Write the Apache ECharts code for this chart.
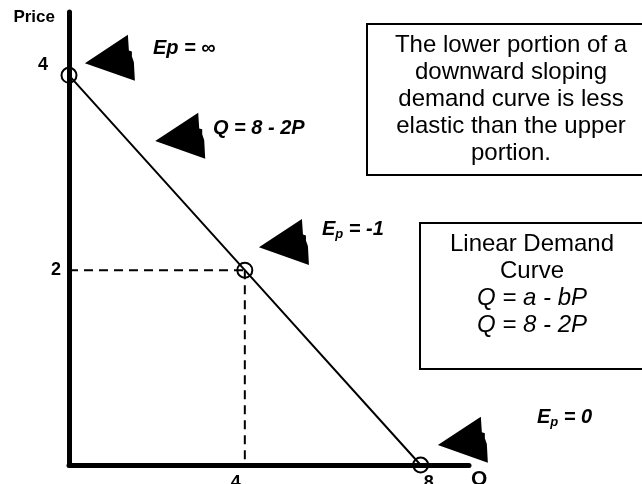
<!DOCTYPE html>
<html>
<head>
<meta charset="utf-8">
<script src="https://cdn.jsdelivr.net/npm/echarts@6/dist/echarts.min.js"></script>
<style>
html,body{margin:0;padding:0;background:#fff;}
#chart{width:642px;height:484px;}
</style>
</head>
<body>
<div id="chart"></div>
<script>
// Demand curve Q = 8 - 2P : points (Q, P)
var demandPoints = [[0, 4], [4, 2], [8, 0]];
// guide (dashed) lines to the unit-elastic point
var guideHorizontal = [[0, 2], [4, 2]];
var guideVertical = [[4, 2], [4, 0]];
// arrow annotations (Q, P)
var arrowPoints = [[0.93, 4.18], [2.53, 3.38], [4.89, 2.29], [8.96, 0.26]];
// tick labels
var xTickValues = [4, 8];
var yTickValues = [2, 4];
var xAxisName = 'Q';
var yAxisName = 'Price';
var box1Lines = ['The lower portion of a', 'downward sloping', 'demand curve is less', 'elastic than the upper', 'portion.'];
var box2Lines = ['Linear Demand', 'Curve', 'Q = a - bP', 'Q = 8 - 2P'];

var FONT = 'Liberation Sans, Arial, sans-serif';
var arrowPath = 'path://M0,29 L43,0 L44,16 L47,17 L47,22 L49,28 L50,47 Z';

var chart = echarts.init(document.getElementById('chart'), null, {renderer: 'canvas'});

var option = {
  animation: false,
  backgroundColor: '#ffffff',
  grid: {left: 69, top: 12, width: 400, height: 453, containLabel: false, outerBoundsMode: 'none'},
  xAxis: {
    type: 'value', min: 0, max: 9.1,
    name: xAxisName, nameLocation: 'end', nameGap: 2,
    nameTextStyle: {fontFamily: FONT, fontWeight: 'bold', fontSize: 21, color: '#000', verticalAlign: 'top', padding: [4, 0, 0, 0]},
    axisLine: {show: true, onZero: false, lineStyle: {color: '#000', width: 5}},
    axisTick: {show: false},
    splitLine: {show: false},
    axisLabel: {
      customValues: xTickValues, margin: 9,
      fontFamily: FONT, fontWeight: 'bold', fontSize: 18, color: '#000',
      formatter: function (v) { return v === 4 ? '{l|4}' : '{r|8}'; },
      rich: {
        l: {fontFamily: FONT, fontWeight: 'bold', fontSize: 18, color: '#000', padding: [0, 18, 0, 0]},
        r: {fontFamily: FONT, fontWeight: 'bold', fontSize: 18, color: '#000', padding: [0, 0, 0, 16]}
      }
    }
  },
  yAxis: {
    type: 'value', min: 0, max: 4.65,
    name: yAxisName, nameLocation: 'end', nameGap: -5,
    nameTextStyle: {fontFamily: FONT, fontWeight: 'bold', fontSize: 17, color: '#000', align: 'right', verticalAlign: 'middle', padding: [0, 14, 0, 0]},
    axisLine: {show: true, onZero: false, lineStyle: {color: '#000', width: 5}},
    axisTick: {show: false},
    splitLine: {show: false},
    axisLabel: {
      customValues: yTickValues, margin: 8,
      fontFamily: FONT, fontWeight: 'bold', fontSize: 18, color: '#000',
      formatter: function (v) { return v === 4 ? '{u|4}' : '{n|2}'; },
      rich: {
        u: {fontFamily: FONT, fontWeight: 'bold', fontSize: 18, color: '#000', padding: [0, 13, 20, 0]},
        n: {fontFamily: FONT, fontWeight: 'bold', fontSize: 18, color: '#000'}
      }
    }
  },
  series: [
    {
      name: 'guideH', type: 'line', data: guideHorizontal, symbol: 'none', z: 1,
      lineStyle: {color: '#000', width: 2, type: [9, 6]}
    },
    {
      name: 'guideV', type: 'line', data: guideVertical, symbol: 'none', z: 1,
      lineStyle: {color: '#000', width: 2, type: [9, 6]}
    },
    {
      name: 'demand', type: 'line', data: demandPoints, z: 3,
      symbol: 'circle', symbolSize: 15, showSymbol: true,
      lineStyle: {color: '#000', width: 2},
      itemStyle: {color: 'rgba(0,0,0,0)', borderColor: '#000', borderWidth: 2}
    },
    {
      name: 'arrows', type: 'scatter', data: arrowPoints, z: 4, clip: false,
      symbol: arrowPath, symbolSize: [50, 46],
      itemStyle: {color: '#000', opacity: 1}
    }
  ],
  graphic: [
    {type: 'rect', shape: {x: 367, y: 24, width: 290, height: 151}, style: {fill: '#fff', stroke: '#000', lineWidth: 2}, z: 10},
    {type: 'text', x: 511, y: 99, z: 11, style: {text: box1Lines.join('\n'), fontFamily: FONT, fontSize: 24, lineHeight: 27, fill: '#000', align: 'center', verticalAlign: 'middle'}},
    {type: 'rect', shape: {x: 420, y: 223, width: 240, height: 146}, style: {fill: '#fff', stroke: '#000', lineWidth: 2}, z: 10},
    {type: 'text', x: 532, y: 285, z: 11, style: {
      text: box2Lines[0] + '\n' + box2Lines[1] + '\n{i|' + box2Lines[2] + '}\n{i|' + box2Lines[3] + '}',
      fontFamily: FONT, fontSize: 24, lineHeight: 27, fill: '#000', align: 'center', verticalAlign: 'middle',
      rich: {i: {fontFamily: FONT, fontSize: 24, lineHeight: 27, fontStyle: 'italic', fill: '#000'}}
    }},
    {type: 'text', x: 153, y: 48, z: 11, style: {text: 'Ep = ∞', fontFamily: FONT, fontSize: 20, fontWeight: 'bold', fontStyle: 'italic', fill: '#000', verticalAlign: 'middle'}},
    {type: 'text', x: 213, y: 128, z: 11, style: {text: 'Q = 8 - 2P', fontFamily: FONT, fontSize: 20, fontWeight: 'bold', fontStyle: 'italic', fill: '#000', verticalAlign: 'middle'}},
    {type: 'text', x: 322, y: 229, z: 11, style: {
      text: '{e|E}{s|p}{e| = -1}', verticalAlign: 'middle',
      rich: {
        e: {fontFamily: FONT, fontSize: 20, fontWeight: 'bold', fontStyle: 'italic', fill: '#000', lineHeight: 24, verticalAlign: 'middle'},
        s: {fontFamily: FONT, fontSize: 13, fontWeight: 'bold', fontStyle: 'italic', fill: '#000', lineHeight: 13, verticalAlign: 'bottom'}
      }
    }},
    {type: 'text', x: 537, y: 417, z: 11, style: {
      text: '{e|E}{s|p}{e| = 0}', verticalAlign: 'middle',
      rich: {
        e: {fontFamily: FONT, fontSize: 20, fontWeight: 'bold', fontStyle: 'italic', fill: '#000', lineHeight: 24, verticalAlign: 'middle'},
        s: {fontFamily: FONT, fontSize: 13, fontWeight: 'bold', fontStyle: 'italic', fill: '#000', lineHeight: 13, verticalAlign: 'bottom'}
      }
    }}
  ]
};
chart.setOption(option);
</script>
</body>
</html>
